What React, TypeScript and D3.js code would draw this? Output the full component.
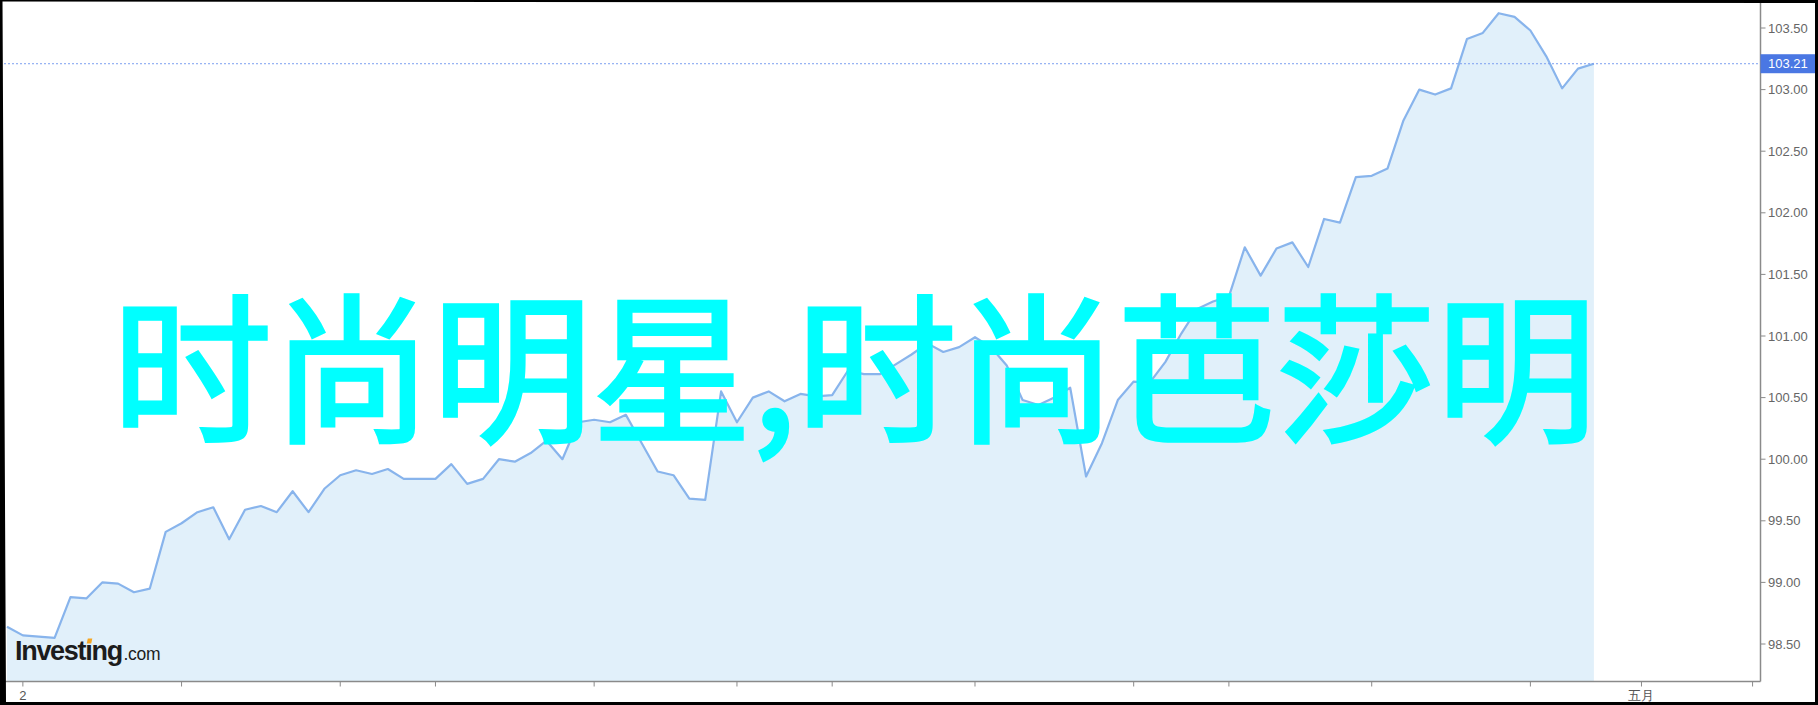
import * as d3 from "d3";

// closing prices, one per session
const prices = [
  98.64, 98.57, 98.56, 98.55, 98.88, 98.87, 99.0, 98.99, 98.92, 98.95,
  99.41, 99.48, 99.57, 99.61, 99.35, 99.59, 99.62, 99.57, 99.74, 99.57,
  99.76, 99.87, 99.91, 99.88, 99.92, 99.84, 99.84, 99.84, 99.96, 99.8,
  99.84, 100.0, 99.98, 100.05, 100.15, 100.0, 100.3, 100.32, 100.3, 100.36,
  100.13, 99.9, 99.87, 99.68, 99.67, 100.55, 100.3, 100.5, 100.55, 100.47,
  100.53, 100.51, 100.52, 100.72, 100.69, 100.69, 100.77, 100.85, 100.94, 100.87,
  100.91, 100.99, 100.91, 100.76, 100.48, 100.44, 100.5, 100.58, 99.86, 100.13,
  100.48, 100.63, 100.62, 100.79, 101.02, 101.22, 101.28, 101.32, 101.72, 101.49,
  101.71, 101.76, 101.56, 101.95, 101.92, 102.29, 102.3, 102.36, 102.75, 103.0,
  102.96, 103.01, 103.41, 103.46, 103.62, 103.59, 103.48, 103.27, 103.01, 103.17,
  103.21,
];

// x axis ticks (session index) and their labels
const dateTicks = [1, 11, 21, 27, 37, 46, 52, 61, 71, 77, 86, 96, 103, 110];
const dateLabels = ["2", "", "", "", "", "", "", "", "", "", "", "", "五月", ""];

const priceTicks = [98.5, 99, 99.5, 100, 100.5, 101, 101.5, 102, 102.5, 103, 103.5];
const lastPrice = 103.21;
const watermark = "时尚明星,时尚芭莎明";

const W = 1818;
const H = 705;
const PLOT = { left: 7, right: 1760.5, top: 3, bottom: 681.5 };
const AXIS_FONT = "'Liberation Sans', Arial, sans-serif";

export default function App() {
  const x = d3.scaleLinear().domain([0, 110.5]).range([PLOT.left, PLOT.right]);
  const y = d3.scaleLinear().domain([98.5, 103.5]).range([644, 28]);

  const line = d3
    .line<number>()
    .x((_, i) => x(i))
    .y((d) => y(d));

  const area = d3
    .area<number>()
    .x((_, i) => x(i))
    .y0(PLOT.bottom)
    .y1((d) => y(d));

  const yLast = y(lastPrice);

  // black photo frame around the screenshot
  const frame =
    `M0,0H${W}V${H}H0Z ` +
    `M2.5,1.5L1815,3L1815,702L6,702Z`;

  return (
    <div style={{ position: "fixed", left: 0, top: 0 }}>
      <svg width={W} height={H} style={{ display: "block" }}>
        <rect x={0} y={0} width={W} height={H} fill="#fff" />

        {/* area + line */}
        <path d={area(prices) ?? ""} fill="#e1f0fa" />
        <path
          d={line(prices) ?? ""}
          fill="none"
          stroke="#88b4ec"
          strokeWidth={2.2}
          strokeLinejoin="round"
        />

        {/* last price guide */}
        <line
          x1={4}
          x2={PLOT.right}
          y1={yLast}
          y2={yLast}
          stroke="#7d9ff0"
          strokeWidth={1}
          strokeDasharray="2,2"
        />

        {/* bottom axis */}
        <line x1={PLOT.left - 2} x2={PLOT.right} y1={PLOT.bottom} y2={PLOT.bottom} stroke="#8a8a8a" strokeWidth={1.5} />
        {dateTicks.map((t, i) => (
          <g key={t} transform={`translate(${x(t)},0)`}>
            <line y1={PLOT.bottom} y2={PLOT.bottom + 5} stroke="#8a8a8a" />
            {dateLabels[i] && (
              <text
                y={700}
                textAnchor="middle"
                fontSize={13}
                fontFamily={AXIS_FONT}
                fill="#555"
              >
                {dateLabels[i]}
              </text>
            )}
          </g>
        ))}

        {/* right axis */}
        <line x1={PLOT.right} x2={PLOT.right} y1={0} y2={PLOT.bottom} stroke="#8a8a8a" strokeWidth={1.5} />
        {priceTicks.map((t) => (
          <g key={t} transform={`translate(0,${y(t)})`}>
            <line x1={PLOT.right} x2={PLOT.right + 5} stroke="#8a8a8a" />
            <text
              x={1768}
              dy="0.36em"
              fontSize={13}
              fontFamily={AXIS_FONT}
              fill="#666"
            >
              {t.toFixed(2)}
            </text>
          </g>
        ))}

        {/* current price badge */}
        <rect x={PLOT.right} y={yLast - 9.5} width={60} height={19} fill="#4a77e3" />
        <text
          x={1768}
          y={yLast}
          dy="0.36em"
          fontSize={13}
          fontFamily={AXIS_FONT}
          fill="#fff"
        >
          {lastPrice.toFixed(2)}
        </text>

        {/* Investing.com logo */}
        <text
          x={15}
          y={660}
          fontFamily={AXIS_FONT}
          fontWeight="bold"
          fontSize={27}
          letterSpacing={-1.3}
          fill="#1c1c1c"
        >
          Investıng
        </text>
        <rect x={87.5} y={638.5} width={4.5} height={5} fill="#f5a623" transform="skewX(-12) translate(136,0)" />
        <text
          x={123.5}
          y={660}
          fontFamily={AXIS_FONT}
          fontSize={17.5}
          letterSpacing={-0.3}
          fill="#1c1c1c"
        >
          .com
        </text>

        {/* watermark */}
        <text
          x={112}
          y={430}
          fontFamily="'Noto Sans CJK SC', sans-serif"
          fontSize={160}
          fill="#00ffff"
          stroke="#00ffff"
          strokeWidth={3.5}
        >
          {watermark}
        </text>

        <path d={frame} fill="#000" fillRule="evenodd" />
      </svg>
    </div>
  );
}
